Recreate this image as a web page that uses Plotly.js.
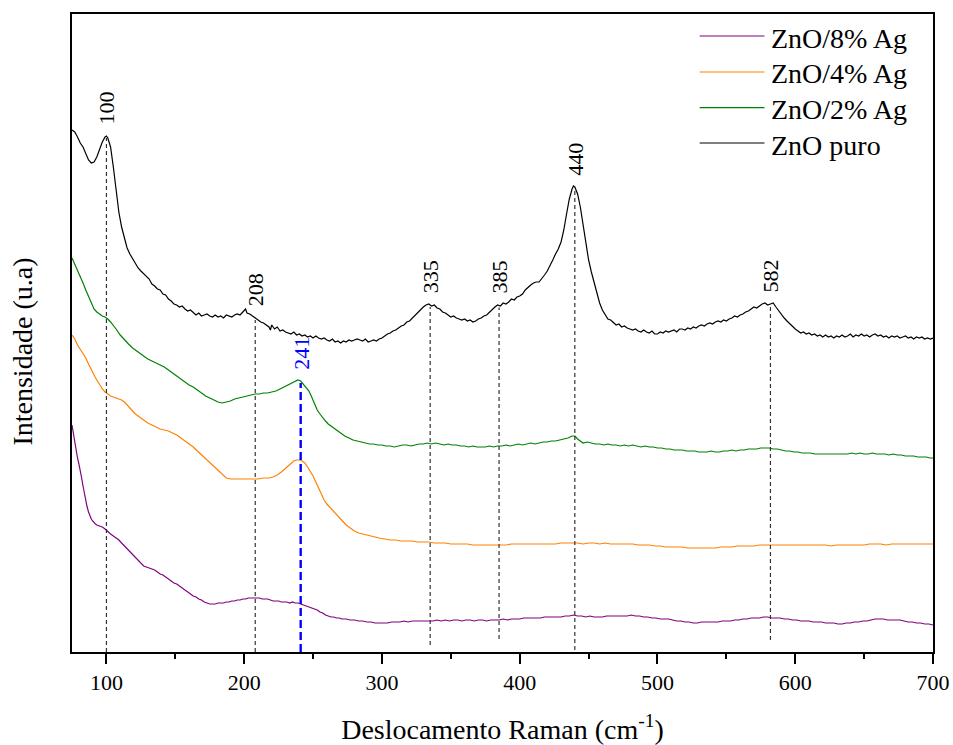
<!DOCTYPE html>
<html>
<head>
<meta charset="utf-8">
<script src="https://cdn.plot.ly/plotly-3.0.1.min.js"></script>
<style>
  html, body { margin: 0; padding: 0; background: #fff; }
  #chart { width: 953px; height: 745px; }
</style>
</head>
<body>
<div id="chart"></div>
<script>
// Raman spectra of pure ZnO and Ag-doped ZnO (stacked, arbitrary intensity units)

const seriesNames = ['ZnO puro', 'ZnO/2% Ag', 'ZnO/4% Ag', 'ZnO/8% Ag'];
const seriesColors = ['#000000', '#008000', '#ff8000', '#800080'];

const puroX = [75,77,79,81,83,85,87,89,91,93,95,97,99,100,101,103,105,107,109,111,113,115,117,119,121,123,125,127,129,131,133,135,137,139,141,143,145,147,149,151,153,155,157,159,161,163,165,167,169,171,173,175,177,179,181,183,185,187,189,191,193,195,197,199,201,202,204,206,208,210,212,214,216,218,219,220,222,224,226,228,230,232,234,236,238,240,242,244,246,248,250,252,254,256,258,260,262,264,266,268,270,272,274,276,278,280,282,284,286,288,290,292,294,296,298,300,302,304,306,308,310,312,314,316,318,320,322,324,326,328,330,332,334,336,338,340,342,344,346,348,350,352,354,356,358,360,362,364,366,368,370,372,374,376,378,380,382,384,386,388,390,392,394,396,398,400,402,404,406,408,410,412,414,416,418,420,422,424,426,428,430,432,434,436,438,439,440,442,444,446,448,450,452,454,456,458,460,462,464,466,468,470,472,474,476,478,480,482,484,486,488,490,492,494,496,498,500,502,504,506,508,510,512,514,516,518,520,522,524,526,528,530,532,534,536,538,540,542,544,546,548,550,552,554,556,558,560,562,564,566,568,570,572,574,576,578,580,582,584,586,588,590,592,594,596,598,600,602,604,606,608,610,612,614,616,618,620,622,624,626,628,630,632,634,636,638,640,642,644,646,648,650,652,654,656,658,660,662,664,666,668,670,672,674,676,678,680,682,684,686,688,690,692,694,696,698,700];
const puroY = [522,520,515,509,505,498,492,489,490,495,503,510,515,516,514,505,485,462,440,425,413,404,398,393,389,384,381,378,375,373,368,366,363,362,358,357,353,351,348,347,345,346,343,341,342,339,337,339,336,337,338,336,335,337,335,336,334,337,336,335,337,338,337,340,343,339,338,336,334,332,330,329,327,325,322,327,323,325,321,322,320,319,318,320,317,318,316,317,315,316,314,316,314,313,314,312,311,313,310,311,309,311,310,312,311,312,313,312,311,313,310,311,312,311,313,314,316,318,319,321,322,324,326,327,330,331,334,336,339,342,345,347,348,346,347,344,343,340,339,337,335,336,334,333,332,333,331,332,330,331,333,334,336,337,340,342,345,347,346,349,348,350,353,352,355,356,358,362,365,367,369,370,370,373,377,381,386,392,398,403,410,422,438,453,463,466,465,458,445,427,407,392,380,369,358,349,342,337,333,332,329,327,328,325,326,324,323,322,323,321,320,322,320,319,321,318,318,320,319,321,320,321,322,320,323,323,322,324,323,325,324,326,327,326,328,329,328,330,331,330,332,331,333,334,336,335,337,338,340,341,343,345,344,346,348,349,347,348,349,345,341,337,334,331,328,325,323,321,319,320,318,319,317,318,316,317,315,317,315,316,314,316,315,317,315,316,318,315,317,316,318,316,317,315,317,318,316,317,315,316,314,316,315,316,314,315,316,314,315,313,315,314,315,313,314,313,314];

const ag2X = [75,77,79,81,83,85,87,89,91,93,95,97,99,101,103,105,107,110,113,116,119,122,124,127,130,133,136,139,142,145,148,151,154,157,160,163,166,169,172,175,178,181,184,187,190,193,196,199,202,205,208,211,214,217,220,223,226,229,232,235,237,239,241,243,245,247,249,251,253,255,257,259,261,264,267,270,273,276,279,282,285,288,291,294,297,300,303,306,309,312,315,318,321,324,327,330,333,336,339,342,345,348,351,354,357,360,363,366,369,372,375,378,381,384,387,390,393,396,399,402,405,408,411,414,417,420,423,426,429,432,435,438,440,442,444,446,449,452,455,458,461,464,467,470,473,476,479,482,485,488,491,494,497,500,503,506,509,512,515,518,521,524,527,530,533,536,539,542,545,548,551,554,557,560,563,566,569,572,575,578,581,584,587,590,593,596,599,602,605,608,611,614,617,620,623,626,629,632,635,638,641,644,647,650,653,656,659,662,665,668,671,674,677,680,683,686,689,692,695,698,700];
const ag2Y = [394,388,382,376,369,362,355,348,343,340,338,336,335,333,330,327,323,317,312,308,304,301,299,296,293,291,289,287,285,282,279,276,273,270,267,265,262,259,256,254,252,250,249,250,251,253,254,255,256,257,258,258,259,259,260,261,263,265,267,269,271,272,271,268,265,261,255,248,242,238,234,231,228,225,222,219,216,214,212,211,210,209,208,208,207,207,206,206,205,206,207,207,206,207,208,208,209,208,209,208,207,208,207,207,206,206,205,206,205,205,205,206,205,206,206,207,206,207,208,207,208,209,208,209,210,210,211,211,212,213,214,216,216,213,211,209,210,209,208,208,207,208,207,207,206,207,206,207,206,205,206,205,205,204,204,203,203,202,202,202,201,201,201,200,200,200,201,200,200,201,201,202,201,202,202,203,203,203,204,204,204,203,203,202,201,201,200,200,199,199,199,198,198,198,198,198,198,198,198,198,199,198,199,198,198,199,198,198,198,197,198,197,197,196,196,196,195,195,195,194,194];

const ag4X = [75,77,79,81,83,85,87,89,91,93,95,97,99,101,103,105,107,109,111,113,115,117,119,121,124,127,130,133,136,139,142,145,148,151,154,157,160,163,166,169,172,175,178,181,184,187,190,194,198,202,206,210,214,218,221,224,227,230,233,236,238,240,242,244,246,248,250,252,254,256,258,260,262,264,266,268,270,272,274,276,278,280,283,286,290,294,298,302,306,310,314,318,322,326,330,334,338,342,346,350,354,358,362,366,370,374,378,382,386,390,394,398,402,406,410,414,418,422,426,430,434,438,442,446,450,454,458,462,466,470,474,478,482,486,490,494,498,502,506,510,514,518,522,526,530,534,538,542,546,550,554,558,562,566,570,574,578,582,586,590,594,598,602,606,610,614,618,622,626,630,634,638,642,646,650,654,658,662,666,670,674,678,682,686,690,694,698,700];
const ag4Y = [317,313,307,303,299,294,288,282,277,272,267,263,260,258,256,255,254,253,252,250,247,244,241,238,235,232,229,227,225,223,222,221,219,217,214,211,208,205,201,197,193,189,185,181,177,174,173,173,173,173,173,173,174,174,175,177,180,184,188,191,192,192,191,189,185,181,176,170,164,158,152,148,145,142,138,135,132,129,127,125,123,121,119,118,116,115,114,113,112,112,111,111,111,110,110,110,109,109,109,108,108,108,108,107,107,107,107,107,107,107,108,108,108,108,108,108,108,108,108,109,109,109,109,108,109,109,108,109,108,108,108,108,108,107,107,107,106,106,105,105,105,105,104,104,104,104,104,104,105,105,105,106,106,106,106,107,107,107,107,107,107,107,107,107,107,107,107,107,106,107,107,107,107,107,107,108,108,108,107,108,108,108,108,108,108,108,108,108];

const ag8X = [75,76,77,78,79,80,81,82,83,84,85,86,87,88,89,90,91,92,93,95,97,99,101,103,105,107,109,111,113,115,117,119,121,123,125,127,129,131,133,135,137,139,141,143,145,147,149,151,153,155,157,159,161,163,165,167,169,171,173,175,177,179,181,183,185,187,189,191,193,195,197,199,201,203,205,207,209,211,213,215,217,219,221,223,225,227,229,231,233,235,237,239,241,243,245,247,249,251,253,255,257,259,261,263,265,267,269,271,274,277,280,283,286,289,292,295,298,301,304,307,310,313,316,319,322,325,328,331,334,337,340,343,346,349,352,355,358,361,364,367,370,373,376,379,382,385,388,391,394,397,400,403,406,409,412,415,418,421,424,427,430,433,436,439,442,445,448,451,454,457,460,463,466,469,472,475,478,481,484,487,490,493,496,499,502,505,508,511,514,517,520,523,526,529,532,535,538,541,544,547,550,553,556,559,562,565,568,571,574,577,580,583,586,589,592,595,598,601,604,607,610,613,616,619,622,625,628,631,634,637,640,643,646,649,652,655,658,661,664,667,670,673,676,679,682,685,688,691,694,697,700];
const ag8Y = [227,218,208,200,194,188,182,174,166,158,151,145,140,136,133,131,129,128,127,126,125,123,120,118,116,114,112,109,106,103,100,97,94,91,88,86,85,84,83,82,80,78,77,75,73,71,69,68,66,64,62,60,58,56,55,53,52,50,49,48,48,48,49,49,49,50,50,51,51,52,52,53,53,54,54,54,54,54,53,53,53,52,51,51,51,50,50,50,49,50,49,49,48,47,46,45,44,43,42,40,39,37,36,35,35,34,34,33,33,32,32,31,31,30,30,29,29,29,29,30,30,30,31,30,31,31,31,31,31,31,32,31,32,31,32,32,31,32,32,31,32,32,31,32,32,32,33,32,33,33,33,34,34,34,34,34,35,35,35,35,35,36,36,37,36,36,35,36,35,35,35,36,36,36,36,36,36,37,36,36,35,35,34,34,33,33,33,32,31,31,30,30,29,29,30,30,30,30,30,31,31,31,32,32,33,33,34,34,34,35,35,34,34,34,33,33,32,32,31,31,31,30,30,30,29,29,29,28,28,29,29,30,30,31,31,32,33,33,33,32,32,32,32,31,30,30,29,29,28,28,27];

// Assigned Raman bands (cm-1)
const peakLabels = [100, 208, 241, 335, 385, 440, 582];

const xTickVals = [100, 200, 300, 400, 500, 600, 700];

const seriesX = [puroX, ag2X, ag4X, ag8X];
const seriesY = [puroY, ag2Y, ag4Y, ag8Y];

// linear interpolation of a spectrum at wavenumber w
function valueAt(xs, ys, w) {
  for (let i = 1; i < xs.length; i++) {
    if (xs[i] >= w) {
      const t = (w - xs[i - 1]) / (xs[i] - xs[i - 1]);
      return ys[i - 1] + t * (ys[i] - ys[i - 1]);
    }
  }
  return ys[ys.length - 1];
}

const FONT = 'Liberation Serif, Times New Roman, serif';

const traces = seriesNames.map((name, i) => ({
  type: 'scatter',
  mode: 'lines',
  name: name,
  x: seriesX[i],
  y: seriesY[i],
  line: { color: seriesColors[i], width: 1.2 },
  hoverinfo: 'x+y+name'
}));

// drop lines and labels for the assigned bands
const bandStyle = {
  241: { series: 1, color: '#0000ff', width: 2.4, dash: '8px,4px', bottom: 0 },
  100: { series: 0, bottom: 0 },
  208: { series: 0, bottom: 0 },
  335: { series: 0, bottom: 7 },
  385: { series: 0, bottom: 13 },
  440: { series: 0, bottom: 2 },
  582: { series: 0, bottom: 12 }
};

const shapes = [];
const annotations = [];
peakLabels.forEach(p => {
  const st = bandStyle[p];
  const top = valueAt(seriesX[st.series], seriesY[st.series], p);
  const color = st.color || '#333333';
  shapes.push({
    type: 'line', xref: 'x', yref: 'y',
    x0: p, x1: p, y0: st.bottom, y1: top - 2,
    line: { color: color, width: st.width || 1.2, dash: st.dash || '4px,3px' }
  });
  annotations.push({
    xref: 'x', yref: 'y', x: p, y: top,
    text: String(p), showarrow: false, textangle: -90,
    xanchor: 'center', yanchor: 'middle', yshift: 28,
    font: { family: FONT, size: 22, color: st.color ? st.color : '#000' }
  });
});

// legend block (top right): long line samples followed by the series name
const legendOrder = [3, 2, 1, 0];
const legendRowsY = [0.9655, 0.9091, 0.8534, 0.7978];
legendOrder.forEach((si, r) => {
  shapes.push({
    type: 'line', xref: 'paper', yref: 'paper',
    x0: 0.729, x1: 0.8043, y0: legendRowsY[r], y1: legendRowsY[r],
    line: { color: seriesColors[si], width: 1.2 }
  });
  annotations.push({
    xref: 'paper', yref: 'paper', x: 0.8095, y: legendRowsY[r],
    text: seriesNames[si], showarrow: false,
    xanchor: 'left', yanchor: 'middle', yshift: -2,
    font: { family: FONT, size: 28, color: '#000' }
  });
});

// vertical axis caption
annotations.push({
  xref: 'paper', yref: 'paper', x: -0.058, y: 0.471,
  text: 'Intensidade (u.a)', showarrow: false, textangle: -90,
  xanchor: 'center', yanchor: 'middle',
  font: { family: FONT, size: 28, color: '#000' }
});

const layout = {
  width: 953, height: 745,
  margin: { l: 72, r: 20, t: 14, b: 93 },
  paper_bgcolor: '#ffffff', plot_bgcolor: '#ffffff',
  showlegend: false,
  font: { family: FONT, color: '#000' },
  xaxis: {
    range: [75, 700],
    tickmode: 'array', tickvals: xTickVals,
    ticks: 'outside', ticklen: 10, tickwidth: 2, tickcolor: '#000',
    tickfont: { family: FONT, size: 22, color: '#000' },
    minor: { dtick: 50, tick0: 50, ticks: 'outside', ticklen: 5, tickwidth: 2, tickcolor: '#000', showgrid: false },
    showline: true, linewidth: 2, linecolor: '#000', mirror: true,
    showgrid: false, zeroline: false,
    title: { text: 'Deslocamento Raman (cm<sup>-1</sup>)', font: { family: FONT, size: 28, color: '#000' }, standoff: 30 }
  },
  yaxis: {
    range: [0, 638],
    showticklabels: false, ticks: '',
    showline: true, linewidth: 2, linecolor: '#000', mirror: true,
    showgrid: false, zeroline: false
  },
  shapes: shapes,
  annotations: annotations
};

Plotly.newPlot('chart', traces, layout, { displayModeBar: false, staticPlot: true });
</script>
</body>
</html>
